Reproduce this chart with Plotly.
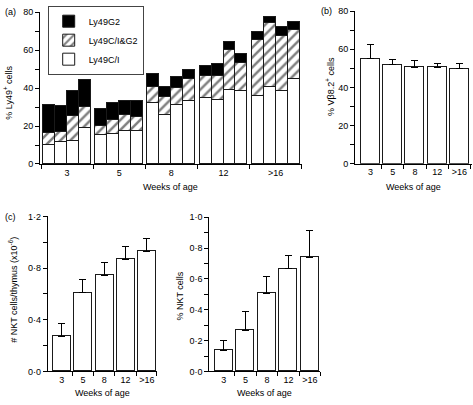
import plotly.graph_objects as go

W, H = 473, 405
FONT = "Liberation Sans, Arial, sans-serif"

# ---------------- data ----------------
weeks = ["3", "5", "8", "12", ">16"]
mice_per_group = 4

# panel (a): individual mice, 4 per age group (stack segments, % of NKT cells)
ly49ci = [9.8, 11.3, 11.8, 19.0,
          14.9, 15.6, 17.0, 17.0,
          32.0, 25.5, 30.7, 32.8,
          34.5, 33.6, 38.7, 38.4,
          35.8, 40.6, 38.4, 44.4]
ly49ci_g2 = [6.3, 5.2, 13.2, 10.8,
             5.0, 7.4, 8.5, 7.7,
             8.6, 9.5, 9.1, 11.6,
             11.6, 12.8, 21.5, 14.9,
             29.5, 33.5, 29.1, 26.2]
ly49g2 = [15.1, 13.7, 13.4, 14.1,
          9.1, 9.0, 7.7, 8.2,
          6.7, 5.6, 6.0, 5.1,
          5.5, 6.1, 3.9, 4.5,
          4.0, 3.4, 4.7, 4.1]

# panel (b): % Vbeta8.2+ cells (mean, upper SEM)
vb82 = [55.1, 51.9, 50.6, 50.6, 49.7]
vb82_sem = [7.4, 2.6, 3.4, 1.7, 2.9]

# panel (c) left: # NKT cells / thymus (x10^-6)
nkt_number = [0.274, 0.607, 0.740, 0.868, 0.931]
nkt_number_sem = [0.096, 0.101, 0.099, 0.100, 0.098]

# panel (c) right: % NKT cells
nkt_pct = [0.135, 0.265, 0.505, 0.665, 0.742]
nkt_pct_sem = [0.063, 0.124, 0.113, 0.090, 0.175]

# ---------------- helpers ----------------
def px_x(p):
    return p / W

def px_y(p):
    return 1 - p / H

LINE = "#1a1a1a"

# x positions of the grouped individual bars in panel (a)
bar_w_a = 0.23
xa = [i // mice_per_group + 0.5 + (i % mice_per_group - (mice_per_group - 1) / 2) * bar_w_a
      for i in range(len(ly49ci))]

fig = go.Figure()

fig.add_trace(go.Bar(x=xa, y=ly49ci, width=bar_w_a, name="Ly49C/I",
                     marker=dict(color="white", line=dict(color=LINE, width=1)),
                     xaxis="x", yaxis="y"))
fig.add_trace(go.Bar(x=xa, y=ly49ci_g2, width=bar_w_a, name="Ly49C/I&G2",
                     marker=dict(color="white", line=dict(color=LINE, width=1),
                                 pattern=dict(shape="/", fgcolor="black", bgcolor="white",
                                              size=7, solidity=0.36)),
                     xaxis="x", yaxis="y"))
fig.add_trace(go.Bar(x=xa, y=ly49g2, width=bar_w_a, name="Ly49G2",
                     marker=dict(color="black", line=dict(color=LINE, width=1)),
                     xaxis="x", yaxis="y"))

idx = list(range(len(weeks)))

def err(arr):
    return dict(type="data", array=arr, arrayminus=[0] * len(arr), symmetric=False,
                color="black", thickness=1, width=3.5)

fig.add_trace(go.Bar(x=idx, y=vb82, width=0.86, error_y=err(vb82_sem), showlegend=False,
                     marker=dict(color="white", line=dict(color=LINE, width=1)),
                     xaxis="x2", yaxis="y2"))
fig.add_trace(go.Bar(x=idx, y=nkt_number, width=0.845, error_y=err(nkt_number_sem), showlegend=False,
                     marker=dict(color="white", line=dict(color=LINE, width=1)),
                     xaxis="x3", yaxis="y3"))
fig.add_trace(go.Bar(x=idx, y=nkt_pct, width=0.83, error_y=err(nkt_pct_sem), showlegend=False,
                     marker=dict(color="white", line=dict(color=LINE, width=1)),
                     xaxis="x4", yaxis="y4"))

tickfont = dict(family=FONT, size=9, color="black")

def xaxis(domain, rng, centers, bounds, anchor):
    return dict(domain=domain, range=rng, anchor=anchor, showline=True, linecolor="black",
                linewidth=1, showgrid=False, zeroline=False, tickmode="array",
                tickvals=centers, ticktext=weeks, ticks="", tickfont=tickfont,
                ticklabelstandoff=0,
                minor=dict(tickmode="array", tickvals=bounds, ticks="outside", ticklen=4,
                           tickcolor="black", tickwidth=1, showgrid=False))

def yaxis(domain, rng, tv, tt, minor_vals, anchor):
    return dict(domain=domain, range=rng, anchor=anchor, showline=True, linecolor="black",
                linewidth=1, showgrid=False, zeroline=False, tickmode="array",
                tickvals=tv, ticktext=tt, ticks="outside", ticklen=4, tickcolor="black",
                tickwidth=1, tickfont=tickfont,
                minor=dict(tickmode="array", tickvals=minor_vals, ticks="outside", ticklen=4,
                           tickcolor="black", tickwidth=1, showgrid=False))

centers = [i + 0.5 for i in idx]

fig.update_layout(
    width=W, height=H, margin=dict(l=0, r=0, t=0, b=0),
    paper_bgcolor="white", plot_bgcolor="white",
    barmode="stack", bargap=0,
    font=dict(family=FONT, size=9, color="black"),
    showlegend=True,
    legend=dict(x=px_x(47.7), y=px_y(0.7), xanchor="left", yanchor="top",
                traceorder="reversed", bgcolor="white", bordercolor="#444", borderwidth=1,
                font=dict(family=FONT, size=9, color="black"), tracegroupgap=0,
                itemwidth=30),
    xaxis=xaxis([px_x(40), px_x(301.7)], [-0.02, 5.0], centers, [0, 1, 2, 3, 4, 5], "y"),
    yaxis=yaxis([px_y(163), px_y(7.5)], [0, 80], [0, 20, 40, 60, 80],
                ["0", "20", "40", "60", "80"], [10, 30, 50, 70], "x"),
    xaxis2=xaxis([px_x(355), px_x(472)], [-0.7, 4.57], idx,
                 [0.5, 1.5, 2.5, 3.5, 4.5], "y2"),
    yaxis2=yaxis([px_y(162.7), px_y(6.2)], [0, 80], [0, 20, 40, 60, 80],
                 ["0", "20", "40", "60", "80"], [10, 30, 50, 70], "x2"),
    xaxis3=xaxis([px_x(47.7), px_x(156.7)], [-0.655, 4.46], idx,
                 [0.5, 1.5, 2.5, 3.5, 4.46], "y3"),
    yaxis3=yaxis([px_y(375.7), px_y(216.7)], [0, 1.2], [0, 0.4, 0.8, 1.2],
                 ["0·0", "0·4", "0·8", "1·2"], [0.2, 0.6, 1.0], "x3"),
    xaxis4=xaxis([px_x(209.3), px_x(320)], [-0.677, 4.465], idx,
                 [0.5, 1.5, 2.5, 3.5, 4.465], "y4"),
    yaxis4=yaxis([px_y(375.7), px_y(217.6)], [0, 1.0], [0, 0.2, 0.4, 0.6, 0.8, 1.0],
                 ["0·0", "0·2", "0·4", "0·6", "0·8", "1·0"],
                 [0.1, 0.3, 0.5, 0.7, 0.9], "x4"),
)

def ann(text, x, y, angle=0, size=9):
    fig.add_annotation(text=text, x=px_x(x), y=px_y(y), xref="paper", yref="paper",
                       showarrow=False, textangle=angle, xanchor="center", yanchor="middle",
                       font=dict(family=FONT, size=size, color="black"))

ann("(a)", 10, 7.5)
ann("(b)", 326, 6.5)
ann("(c)", 10.5, 217)
ann("% Ly49<sup>+</sup> cells", 8, 90, -90)
ann("% Vβ8.2<sup>+</sup> cells", 330, 84, -90)
ann("# NKT cells/thymus (x10<sup>-6</sup>)", 13, 292, -90)
ann("% NKT cells", 180, 299, -90)
ann("Weeks of age", 170.5, 186.5)
ann("Weeks of age", 413.5, 186.5)
ann("Weeks of age", 102, 398)
ann("Weeks of age", 264.6, 398)

fig.write_html("out.html",
               config={"displayModeBar": False},
               post_script="document.body.style.margin='0px';"
                           "document.body.style.overflow='hidden';")
